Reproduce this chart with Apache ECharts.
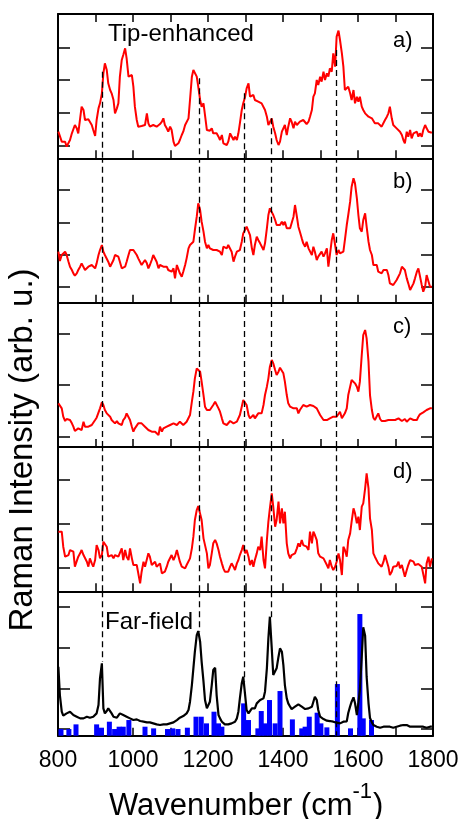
<!DOCTYPE html>
<html><head><meta charset="utf-8">
<script src="https://cdn.jsdelivr.net/npm/echarts@6/dist/echarts.min.js"></script>
<style>html,body{margin:0;padding:0;background:#fff}#c{width:462px;height:819px}</style>
</head><body><div id="c"></div>
<script>
// wavenumber grid (cm-1) at which intensities were read
const wn = [
801,805,810,814,819,823,828,832,837,
841,845,850,854,859,863,868,872,877,
881,885,890,894,899,903,908,912,917,
921,925,930,934,939,943,948,952,957,
961,965,970,974,979,983,988,992,997,
1001,1005,1010,1014,1019,1023,1028,1032,1037,
1041,1045,1050,1054,1059,1063,1068,1072,1077,
1081,1085,1090,1094,1099,1103,1108,1112,1117,
1121,1125,1130,1134,1139,1143,1148,1152,1157,
1161,1165,1170,1174,1179,1183,1188,1192,1197,
1201,1205,1210,1214,1219,1223,1228,1232,1237,
1241,1245,1250,1254,1259,1263,1268,1272,1277,
1281,1285,1290,1294,1299,1303,1308,1312,1317,
1321,1325,1330,1334,1339,1343,1348,1352,1357,
1361,1365,1370,1374,1379,1383,1388,1392,1397,
1401,1405,1410,1414,1419,1423,1428,1432,1437,
1441,1445,1450,1454,1459,1463,1468,1472,1477,
1481,1485,1490,1494,1499,1503,1508,1512,1517,
1521,1525,1530,1534,1539,1543,1548,1552,1557,
1561,1565,1570,1574,1579,1583,1588,1592,1597,
1601,1605,1610,1614,1619,1623,1628,1632,1637,
1641,1645,1650,1654,1659,1663,1668,1672,1677,
1681,1685,1690,1694,1699,1703,1708,1712,1717,
1721,1725,1730,1734,1739,1743,1748,1752,1757,
1761,1765,1770,1774,1779,1783,1788,1792,1797];

// a) tip-enhanced
const tipA = [
80,75,50,45,50,35,37,55,75,
80,100,90,75,70,155,145,115,120,
117,113,100,85,67,115,150,165,195,
255,285,265,225,205,195,175,135,150,
165,245,295,310,330,300,245,240,250,
215,155,115,95,100,97,95,100,135,
105,95,90,100,97,95,100,103,110,
120,100,90,80,95,85,50,37,35,
45,55,70,80,100,103,120,175,245,
265,260,245,215,175,155,165,130,85,
80,83,90,75,80,75,65,55,70,
45,45,40,50,75,80,55,65,55,
75,105,145,165,185,210,225,185,180,
190,175,175,170,175,165,170,145,125,
100,105,120,95,75,55,40,50,80,
85,100,70,95,120,110,90,110,100,
105,110,113,115,115,103,110,125,145,
185,195,235,220,245,230,260,235,255,
245,270,260,315,275,365,383,355,315,
275,205,210,215,195,175,205,165,185,
170,185,155,145,135,130,125,120,120,
115,105,110,105,105,95,100,115,125,
135,155,120,100,95,90,85,80,70,
55,45,80,65,85,60,75,70,80,
65,75,65,85,100,90,80,75,77];

// b)
const tipB = [
153,125,143,148,153,143,123,108,98,
88,81,88,98,108,118,113,98,103,
108,113,113,108,103,118,143,158,173,
153,143,138,123,108,113,128,143,148,
138,123,103,98,108,123,143,158,163,
158,153,143,133,133,113,118,128,118,
103,113,128,143,138,123,103,113,113,
108,113,108,98,103,93,103,73,113,
113,88,78,93,113,133,163,173,178,
183,218,258,298,278,243,213,183,163,
173,163,158,158,153,158,153,153,143,
168,173,163,173,168,153,123,138,153,
158,158,183,208,213,228,233,203,163,
143,173,198,188,178,173,158,178,223,
263,283,278,263,248,233,238,233,243,
233,243,223,218,223,228,258,293,258,
228,213,193,178,168,183,163,163,143,
168,153,128,138,143,153,138,148,163,
108,143,188,208,173,143,158,148,143,
153,188,233,263,303,348,373,358,313,
263,223,213,248,268,228,183,158,143,
113,118,113,93,88,88,98,103,98,
83,58,58,53,58,68,73,88,108,
113,98,73,58,38,38,58,73,93,
103,98,53,33,48,83,83,48,48];

// c)
const tipC = [
131,128,116,91,78,84,86,81,71,
61,48,51,56,61,51,76,61,56,
61,61,66,71,81,88,91,116,134,
126,111,101,96,91,81,81,71,78,
71,76,66,81,88,101,106,81,61,
46,56,61,71,76,71,66,61,56,
51,48,46,46,46,41,36,61,46,
56,51,61,66,66,66,71,66,66,
71,76,71,66,71,76,81,96,136,
166,206,236,241,226,196,156,121,111,
106,111,116,126,136,141,116,106,86,
71,71,66,71,78,76,71,66,76,
81,96,121,141,144,126,96,86,81,
96,86,81,101,96,101,126,156,181,
206,241,261,251,231,216,226,238,236,
221,196,156,131,121,116,116,121,116,
101,111,116,126,121,121,126,126,126,
123,121,116,111,96,91,81,81,81,
83,86,91,91,91,91,91,106,86,
91,101,116,156,181,201,201,191,181,
166,196,276,336,351,326,256,156,111,
88,81,86,101,84,78,76,78,81,
81,78,81,76,81,83,86,81,78,
81,84,76,78,86,84,81,84,81,
91,98,96,104,101,111,106,116,116];

// d)
const tipD = [
179,184,179,134,104,99,109,124,129,
119,74,69,104,114,124,109,109,89,
74,99,84,74,94,139,124,99,109,
149,144,134,104,104,109,99,109,114,
104,109,129,94,124,104,94,129,99,
79,76,79,84,24,59,89,74,79,
114,104,79,79,89,74,69,84,54,
49,59,74,89,94,109,94,104,124,
119,89,74,74,69,79,84,99,129,
164,214,244,256,254,214,159,164,114,
69,79,114,144,154,144,124,104,84,
69,59,64,59,74,84,74,64,84,
94,109,124,139,114,124,104,79,94,
74,94,114,134,124,164,94,69,154,
209,249,294,254,194,214,269,204,249,
204,239,144,114,99,109,104,114,129,
144,134,154,139,144,134,124,179,144,
179,169,154,114,104,109,99,104,79,
69,94,74,64,74,89,114,94,49,
134,124,104,154,174,209,249,234,204,
224,184,254,264,309,354,309,219,184,
114,104,99,84,89,74,89,109,104,
74,49,59,74,79,76,89,69,79,
84,44,64,79,94,99,89,79,84,
82,84,74,79,24,84,104,74,99];

// far-field spectrum
const farField = [
207,122,72,60,57,67,64,72,67,
62,60,57,57,52,54,52,50,57,
52,54,54,57,59,67,92,172,217,
82,67,74,82,80,67,57,52,54,
57,67,67,62,59,57,54,52,50,
47,47,49,47,44,42,42,42,40,
39,40,37,37,34,34,34,32,32,
34,34,34,37,37,39,40,42,47,
52,54,57,59,62,67,77,102,152,
202,252,302,314,282,222,162,107,82,
77,102,152,197,204,122,62,52,42,
37,34,34,34,37,37,40,42,52,
72,112,157,177,122,77,67,72,82,
77,82,97,102,107,107,112,132,202,
292,357,262,182,182,202,237,262,252,
212,152,112,97,87,80,82,87,92,
94,92,87,82,80,82,82,84,87,
102,117,107,77,57,52,50,47,45,
44,44,42,42,40,39,37,37,38,
42,40,43,68,88,102,115,98,62,
57,137,237,325,300,177,98,53,40,
32,27,27,24,24,24,27,24,27,
25,27,27,24,27,27,27,30,32,
32,30,32,30,27,29,27,27,27,
24,27,30,27,27,24,27,27,27];

// calculated mode positions (blue sticks) and heights
const barWn  = [808,829,848,903,916,937,951,963,974,989,1032,1055,1092,1106,1120,1145,1168,1182,1196,1216,1228,1237,1295,1308,1333,1342,1352,1364,1379,1392,1425,1450,1459,1470,1491,1501,1517,1545,1580,1605,1614,1636];
const barVal = [20,20,34,34,24,42,20,27,27,47,27,22,20,22,20,24,57,57,37,72,37,27,97,47,22,74,37,107,37,134,49,22,27,57,69,37,25,155,22,365,52,47];

// dashed guide lines
const dashWn = [918,1176,1297,1368,1543];
const dashStartA = [260,240,195,120,325];
const dashEndE = [222,312,162,352,0];

// axis ticks
const xTickLabels = [800,1000,1200,1400,1600,1800];
const yTicks = [[37,136,235,332],[48,144,241,338],[31,186,341],[72,204,334],[22,142,264,387]];
const panelLabels = ['a)','b)','c)','d)'];

const FONT = '"Liberation Sans", Arial, Helvetica, sans-serif';
const chart = echarts.init(document.getElementById('c'), null, {renderer:'canvas'});
const N = 5, TOP = 14, H = 144.34, LEFT = 58, RIGHT = 29, YMAX = 433;
const grids = [], xAxes = [], yAxes = [], series = [];
const panels = [tipA, tipB, tipC, tipD, farField];
const axisLineStyle = {color:'#000', width:2};
const tickStyle = {color:'#000', width:1.5};
const dashStyle = {type:[6,4], color:'#000', width:1.3};

for (let i = 0; i < N; i++) {
  grids.push({left:LEFT, right:RIGHT, top:TOP + i*H, height:H, containLabel:false, outerBoundsMode:'none'});
  xAxes.push({type:'value', gridIndex:i, min:800, max:1800, interval:100, position:'bottom',
    axisLine:{show:true, onZero:false, lineStyle:axisLineStyle},
    axisTick:{show:true, inside:true, length:8, lineStyle:tickStyle},
    axisLabel:{show:i === N-1, formatter:v => xTickLabels.includes(v) ? String(v) : '',
      fontSize:23, color:'#000', fontFamily:FONT, margin:13},
    splitLine:{show:false}});
  xAxes.push({type:'value', gridIndex:i, min:800, max:1800, interval:100, position:'top',
    axisLine:{show:true, onZero:false, lineStyle:axisLineStyle},
    axisTick:{show:i === 0, inside:true, length:8, lineStyle:tickStyle},
    axisLabel:{show:false}, splitLine:{show:false}});
  ['left','right'].forEach(pos => yAxes.push({type:'value', gridIndex:i, min:0, max:YMAX, position:pos,
    axisLine:{show:true, onZero:false, lineStyle:axisLineStyle},
    axisTick:{show:true, inside:true, length:12, customValues:yTicks[i], lineStyle:tickStyle},
    axisLabel:{show:false}, splitLine:{show:false}}));
}

function markLineFor(i) {
  let data;
  if (i === 0) data = dashWn.map((w,k) => [{coord:[w, dashStartA[k]]}, {coord:[w, 0]}]);
  else if (i === N-1) data = dashWn.map((w,k) => [{coord:[w, YMAX]}, {coord:[w, dashEndE[k]]}]);
  else data = dashWn.map(w => ({xAxis:w}));
  return {silent:true, symbol:['none','none'], label:{show:false}, lineStyle:dashStyle, data:data, animation:false};
}

series.push({type:'bar', xAxisIndex:8, yAxisIndex:8, barWidth:5, z:1,
  itemStyle:{color:'#0000ff'}, data:barWn.map((w,k) => [w, barVal[k]])});

panels.forEach((vals, i) => {
  series.push({type:'line', xAxisIndex:2*i, yAxisIndex:2*i, showSymbol:false, symbol:'none', z:3,
    lineStyle:{color: i === N-1 ? '#000' : '#ff0000', width: i === N-1 ? 2.2 : 2},
    data: wn.map((w,k) => [w, vals[k]]), markLine: markLineFor(i)});
});

// text measurement for the x axis title pieces
const mctx = document.createElement('canvas').getContext('2d');
function tw(t, fs) { mctx.font = fs + 'px ' + FONT; return mctx.measureText(t).width; }
const XT = 'Wavenumber (cm', XFS = 31, SFS = 22;
const x0 = 109, x1 = x0 + tw(XT, XFS), x2 = x1 + tw('-1', SFS) + 1;

const graphics = [
  {type:'text', x:108, y:34.5, style:{text:'Tip-enhanced', fontSize:24, fontFamily:FONT, fill:'#000', align:'left', verticalAlign:'middle'}},
  {type:'text', x:105, y:622, style:{text:'Far-field', fontSize:24, fontFamily:FONT, fill:'#000', align:'left', verticalAlign:'middle'}},
  {type:'text', x:x0, y:806, style:{text:XT, fontSize:XFS, fontFamily:FONT, fill:'#000', align:'left', verticalAlign:'middle'}},
  {type:'text', x:x1, y:792, style:{text:'-1', fontSize:SFS, fontFamily:FONT, fill:'#000', align:'left', verticalAlign:'middle'}},
  {type:'text', x:x2, y:806, style:{text:')', fontSize:XFS, fontFamily:FONT, fill:'#000', align:'left', verticalAlign:'middle'}},
  {type:'text', x:23, y:450, rotation:Math.PI/2, style:{text:'Raman Intensity (arb. u.)', fontSize:33, fontFamily:FONT, fill:'#000', align:'center', verticalAlign:'middle'}}
];
const labelBase = [48.3, 189, 334.3, 479.3];
panelLabels.forEach((t, i) => graphics.push({type:'text', x:393, y:labelBase[i] - 7.5,
  style:{text:t, fontSize:22, fontFamily:FONT, fill:'#000', align:'left', verticalAlign:'middle'}}));

chart.setOption({animation:false, backgroundColor:'#fff', grid:grids, xAxis:xAxes, yAxis:yAxes, series:series, graphic:graphics});
</script></body></html>
